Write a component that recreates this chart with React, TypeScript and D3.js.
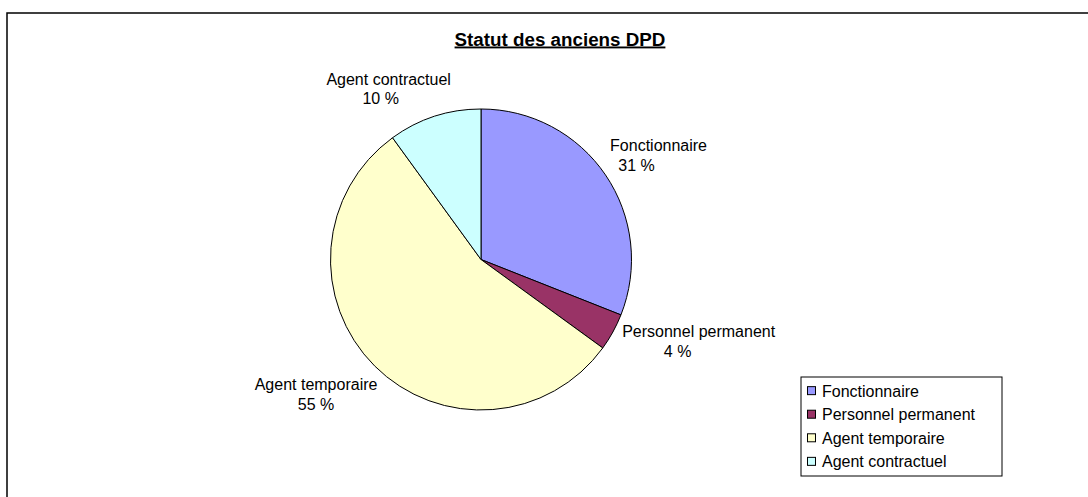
import React from "react";
import * as d3 from "d3";

// chart data
const categories = ["Fonctionnaire", "Personnel permanent", "Agent temporaire", "Agent contractuel"];
const shares = [31, 4, 55, 10];
const colors = ["#9999FF", "#993366", "#FFFFCC", "#CCFFFF"];
const title = "Statut des anciens DPD";

// label placement tweaks (relative to the arc centroid), [dx, dy, dx of second line]
const labelNudge: [number, number, number][] = [
  [8, 7, -22],
  [38, -21, -21],
  [-20, -14, 0],
  [-29, 20, -8],
];

const W = 1088;
const H = 497;
const cx = 481;
const cy = 259.5;
const R = 150.5;
const font = "'Liberation Sans', Arial, sans-serif";

const App = () => {
  const pie = d3.pie<number>().value((d) => d).sort(null);
  const arcs = pie(shares);
  const arc = d3.arc<d3.PieArcDatum<number>>().innerRadius(0).outerRadius(R);
  const labelArc = d3.arc<d3.PieArcDatum<number>>().innerRadius(205).outerRadius(205);

  const legendY = d3.scaleBand<string>().domain(categories).range([377, 476]).paddingOuter(0.1);

  return (
    <svg
      width={W}
      height={H}
      style={{ position: "absolute", left: 0, top: 0, background: "#fff" }}
      fontFamily={font}
    >
      <rect x={7} y={13} width={W + 20} height={H + 20} fill="#fff" stroke="#000" strokeWidth={1.5} />
      <text x={560} y={45.5} textAnchor="middle" fontSize={18.8} fontWeight="bold" textDecoration="underline">
        {title}
      </text>

      <g transform={`translate(${cx},${cy})`}>
        {arcs.map((a, i) => (
          <path key={i} d={arc(a) || ""} fill={colors[i]} stroke="#000" strokeWidth={1} />
        ))}
        {arcs.map((a, i) => {
          const [lx, ly] = labelArc.centroid(a);
          const [dx, dy, dx2] = labelNudge[i];
          return (
            <g key={i} fontSize={16} fill="#000" textAnchor="middle">
              <text x={lx + dx} y={ly + dy}>{categories[i]}</text>
              <text x={lx + dx + dx2} y={ly + dy + 19.5}>{`${shares[i]} %`}</text>
            </g>
          );
        })}
      </g>

      <rect x={801} y={377} width={201} height={99} fill="#fff" stroke="#000" strokeWidth={1} />
      {categories.map((c, i) => {
        const y = (legendY(c) || 0) + legendY.bandwidth() / 2;
        return (
          <g key={c}>
            <rect x={807.5} y={y - 4.5} width={8} height={8} fill={colors[i]} stroke="#000" strokeWidth={1} />
            <text x={822} y={y + 5.5} fontSize={16}>{c}</text>
          </g>
        );
      })}
    </svg>
  );
};

export default App;
